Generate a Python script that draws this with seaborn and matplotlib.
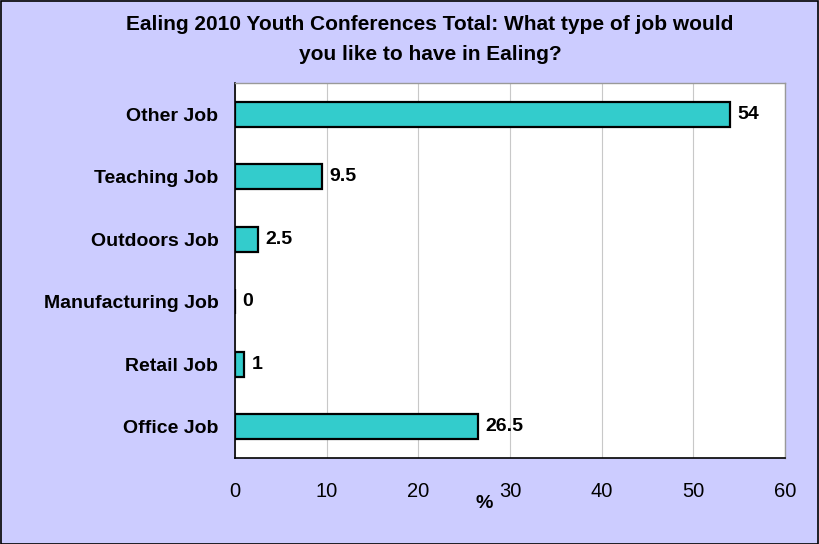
import matplotlib
matplotlib.use("Agg")
import matplotlib.pyplot as plt
import seaborn as sns
import pandas as pd
from matplotlib.patches import Rectangle

categories = ["Other Job", "Teaching Job", "Outdoors Job", "Manufacturing Job", "Retail Job", "Office Job"]
values = [54, 9.5, 2.5, 0, 1, 26.5]
labels = ["54", "9.5", "2.5", "0", "1", "26.5"]
xticks = [0, 10, 20, 30, 40, 50, 60]

sns.set_style("white")
plt.rcParams['font.family'] = ['Liberation Sans', 'DejaVu Sans']
plt.rcParams['text.color'] = 'black'
plt.rcParams['xtick.color'] = 'black'
plt.rcParams['ytick.color'] = 'black'
plt.rcParams['axes.labelcolor'] = 'black'

df = pd.DataFrame({"cat": categories, "val": values})

fig = plt.figure(figsize=(8.19, 5.44), dpi=100)
fig.patch.set_facecolor("#CCCCFF")
ax = fig.add_axes([235/819, 1-458/544, (785-235)/819, (458-83)/544])
ax.set_facecolor("white")

sns.barplot(data=df, x="val", y="cat", orient="h", color="#33CCCC", saturation=1,
            edgecolor="black", linewidth=1.6, width=0.4, ax=ax)

for i, (v, t) in enumerate(zip(values, labels)):
    ax.text(v + 0.8, i, t, va="center", ha="left", fontsize=14, fontweight="bold", color="black")

ax.set_xlim(0, 60)
ax.set_ylim(5.5, -0.5)
ax.set_xticks(xticks)
ax.set_xticklabels([str(x) for x in xticks], fontsize=14.5, color="black")
ax.set_yticks(range(len(categories)))
ax.set_yticklabels(categories, fontsize=14, fontweight="bold", color="black")
ax.tick_params(axis="y", which="major", length=0, pad=12)
ax.set_yticks([i - 0.5 for i in range(len(categories) + 1)], minor=True)
ax.tick_params(axis="y", which="minor", length=5, width=1, color="black", direction="out")
ax.tick_params(axis="x", which="major", length=5, width=1, color="black", direction="out", pad=12)
ax.grid(axis="x", color="#c8c8c8", linewidth=0.8)
ax.set_axisbelow(True)
ax.set_xlabel("")
ax.set_ylabel("")
for s in ["left", "bottom"]:
    ax.spines[s].set_color("black")
    ax.spines[s].set_linewidth(1.2)
for s in ["top", "right"]:
    ax.spines[s].set_color("#999999")
    ax.spines[s].set_linewidth(1)

fig.text(484/819, 1-504/544, "%", ha="center", va="center", fontsize=14, fontweight="bold", color="black")
fig.text(430/819, 1-25/544, "Ealing 2010 Youth Conferences Total: What type of job would",
         ha="center", va="center", fontsize=15, fontweight="bold", color="black")
fig.text(430/819, 1-55/544, "you like to have in Ealing?",
         ha="center", va="center", fontsize=15, fontweight="bold", color="black")

fig.patches.append(Rectangle((0.5/819, 0.5/544), 1-1.5/819, 1-1.5/544, transform=fig.transFigure,
                             fill=False, edgecolor="black", linewidth=1.2))

fig.savefig("out.png", dpi=100, facecolor=fig.get_facecolor())
